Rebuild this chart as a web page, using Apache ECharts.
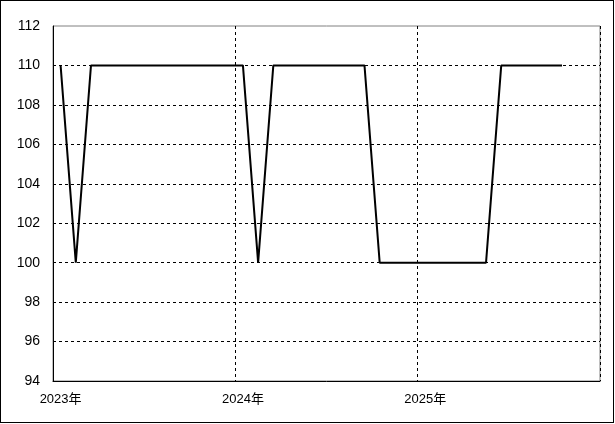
<!DOCTYPE html>
<html>
<head>
<meta charset="utf-8">
<script src="https://cdn.jsdelivr.net/npm/echarts@6/dist/echarts.min.js"></script>
<style>
  html, body { margin: 0; padding: 0; background: #fff; }
  #frame { position: absolute; left: 0; top: 0; width: 612px; height: 421px; border: 1px solid #000; }
  #chart { width: 615px; height: 424px; position: absolute; left: 0; top: 0; }
</style>
</head>
<body>
<div id="frame"></div>
<div id="chart"></div>
<script>
// months Jan 2023 .. Dec 2025
const months = [
  '2023-01', '2023-02', '2023-03', '2023-04', '2023-05', '2023-06',
  '2023-07', '2023-08', '2023-09', '2023-10', '2023-11', '2023-12',
  '2024-01', '2024-02', '2024-03', '2024-04', '2024-05', '2024-06',
  '2024-07', '2024-08', '2024-09', '2024-10', '2024-11', '2024-12',
  '2025-01', '2025-02', '2025-03', '2025-04', '2025-05', '2025-06',
  '2025-07', '2025-08', '2025-09', '2025-10', '2025-11', '2025-12'
];
const values = [
  110, 100, 110, 110, 110, 110, 110, 110, 110, 110, 110, 110,
  110, 100, 110, 110, 110, 110, 110, 110, 110, 100, 100, 100,
  100, 100, 100, 100, 100, 110, 110, 110, 110, 110, null, null
];
const yMin = 94, yMax = 112, yStep = 2;

let chart = echarts.init(document.getElementById('chart'));
const font = '"Liberation Sans", "Noto Sans CJK JP", sans-serif';

// top grid line is the grey plot border, not a dashed line
let yLineColors = [];
for (let v = yMin; v <= yMax; v += yStep) {
  yLineColors.push(v === yMax ? 'rgba(0,0,0,0)' : '#000');
}

let option = {
  animation: false,
  backgroundColor: 'transparent',
  grid: {
    left: 53, right: 15, top: 26, bottom: 43,
    show: true,
    borderColor: '#808080',
    borderWidth: 1
  },
  xAxis: {
    type: 'category',
    data: months,
    boundaryGap: true,
    axisLine: { lineStyle: { color: '#000', width: 1 } },
    axisTick: { show: false },
    axisLabel: {
      interval: 11,
      margin: 12,
      color: '#000',
      fontSize: 13,
      fontFamily: font,
      formatter: function (v) { return v.slice(0, 4) + '年'; }
    },
    splitLine: {
      show: true,
      interval: 11,
      lineStyle: { color: '#000', type: [3, 3], width: 1 }
    }
  },
  yAxis: {
    type: 'value',
    min: yMin,
    max: yMax,
    interval: yStep,
    axisLine: { show: true, lineStyle: { color: '#000', width: 1 } },
    axisTick: { show: false },
    axisLabel: { margin: 13, color: '#000', fontSize: 14, fontFamily: font },
    splitLine: {
      show: true,
      lineStyle: { color: yLineColors, type: [3, 3], width: 1 }
    }
  },
  series: [
    {
      type: 'line',
      data: values,
      showSymbol: false,
      connectNulls: false,
      lineStyle: { color: '#000', width: 2 }
    }
  ]
};
chart.setOption(option);
</script>
</body>
</html>
